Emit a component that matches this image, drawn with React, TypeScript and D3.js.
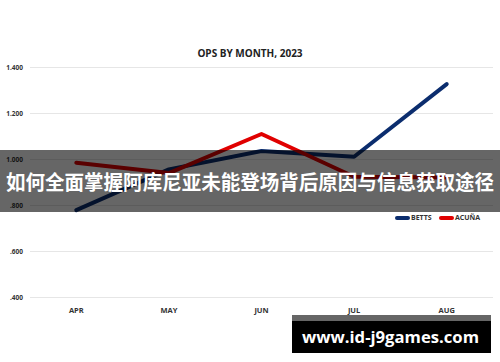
import React from "react";
import * as d3 from "d3";

const months = ["APR", "MAY", "JUN", "JUL", "AUG"];
const bettsOps = [0.78, 0.957, 1.037, 1.012, 1.328];
const acunaOps = [0.986, 0.941, 1.111, 0.925, 0.922];
const yTicks = [0.4, 0.6, 0.8, 1.0, 1.2, 1.4];
const seriesNames = ["BETTS", "ACUÑA"];
const seriesColors = ["#0b2d6e", "#e00000"];
const titleText = "OPS BY MONTH, 2023";
const bannerText = "如何全面掌握阿库尼亚未能登场背后原因与信息获取途径";
const watermarkText = "www.id-j9games.com";

const W = 500;
const H = 362;

function fmt(v: number) {
  const s = v.toFixed(3);
  return v < 1 ? s.replace(/^0/, "") : s;
}

export default function App() {
  const x = d3.scaleBand<string>().domain(months).range([30, 493]);
  const y = d3.scaleLinear().domain([0.4, 1.4]).range([297.5, 67.5]);
  const cx = (m: string) => (x(m) as number) + x.bandwidth() / 2;
  const line = d3
    .line<number>()
    .x((_, i) => cx(months[i]))
    .y((d) => y(d));
  const series = [bettsOps, acunaOps];

  return (
    <svg
      width={W}
      height={H}
      style={{ position: "absolute", left: 0, top: 0, background: "#fff" }}
      fontFamily="'Open Sans', 'Noto Sans', sans-serif"
    >
      <rect x={0} y={0} width={W} height={H} fill="#fff" />
      <text
        x={250}
        y={57}
        textAnchor="middle"
        fontSize={10}
        fontWeight={700}
        fill="#222"
      >
        {titleText}
      </text>
      {yTicks.map((t) => (
        <g key={t}>
          <line x1={30} x2={493} y1={y(t)} y2={y(t)} stroke="#e6e6e6" strokeWidth={1} />
          <text
            x={23}
            y={y(t)}
            dy="0.35em"
            textAnchor="end"
            fontSize={6.5}
            fontWeight={700}
            fill="#333"
          >
            {fmt(t)}
          </text>
        </g>
      ))}
      {months.map((m) => (
        <text
          key={m}
          x={cx(m)}
          y={313}
          textAnchor="middle"
          fontSize={7.5}
          fontWeight={700}
          fill="#333"
        >
          {m}
        </text>
      ))}
      {series.map((s, i) => (
        <path
          key={seriesNames[i]}
          d={line(s) || ""}
          fill="none"
          stroke={seriesColors[i]}
          strokeWidth={4}
          strokeLinecap="round"
          strokeLinejoin="round"
        />
      ))}
      {/* legend */}
      {seriesNames.map((n, i) => {
        const lx = i === 0 ? 395 : 439;
        return (
          <g key={n}>
            <line
              x1={lx + 2}
              x2={lx + 13}
              y1={218}
              y2={218}
              stroke={seriesColors[i]}
              strokeWidth={4}
              strokeLinecap="round"
            />
            <text x={lx + 16} y={218} dy="0.35em" fontSize={7} fontWeight={700} fill="#333">
              {n}
            </text>
          </g>
        );
      })}
      {/* banner overlay */}
      <rect x={0} y={150} width={W} height={62} fill="rgba(0,0,0,0.6)" />
      <text
        x={250}
        y={183}
        dy="0.36em"
        textAnchor="middle"
        fontSize={20}
        fontWeight={700}
        fill="#fff"
        textLength={488}
        lengthAdjust="spacingAndGlyphs"
        fontFamily="'Noto Sans CJK SC', sans-serif"
      >
        {bannerText}
      </text>
      {/* watermark */}
      <rect x={292} y={315} width={199} height={6} fill="rgba(0,0,0,0.6)" />
      <rect x={292} y={321} width={199} height={32} fill="#000" />
      <text
        x={390.5}
        y={337}
        dy="0.35em"
        textAnchor="middle"
        fontSize={16.5}
        fontWeight={700}
        fill="#fff"
        textLength={177}
        lengthAdjust="spacingAndGlyphs"
        fontFamily="'Open Sans', sans-serif"
      >
        {watermarkText}
      </text>
    </svg>
  );
}
